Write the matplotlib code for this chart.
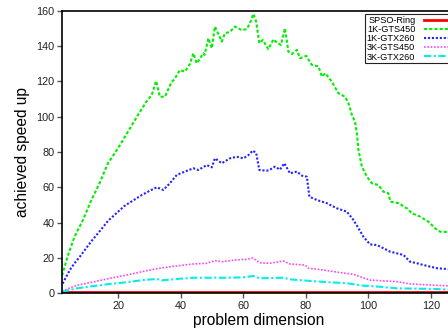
import numpy as np
import matplotlib
matplotlib.use("Agg")
import matplotlib.pyplot as plt

plt.rcParams['font.family'] = ['Liberation Sans', 'DejaVu Sans']

# speed up of each GPU variant against the sequential SPSO ring
ring_dim = [2, 128]
ring_speedup = [1, 1]

gts450_1k_dim = [2, 4, 6, 8.7, 11.4, 14, 16.7, 19.9, 23.1, 26.3, 29, 30.7, 32.1, 33.3, 34.9,
                 37.1, 37.9, 39.7, 41.3, 42.9, 44, 45.1, 47.2, 47.6, 48.8, 49.9, 50.9, 53.1,
                 54.1, 55.7, 57.3, 59.5, 61.1, 62.1, 63.2, 64.1, 65.1, 66.2, 68, 69.6, 70.7,
                 72, 73.3, 74.4, 75.5, 77.1, 78.1, 80.1, 81.9, 84, 85.1, 86.2, 88.3, 90.4,
                 92.5, 93.6, 94.7, 95.7, 96.3, 96.8, 97.9, 99.5, 101.1, 103.2, 104.8, 106.4,
                 107, 109.6, 112.3, 113.9, 116.5, 119.2, 121.3, 122.9, 128]
gts450_1k_speedup = [10, 22, 32, 41.5, 52.8, 62.3, 73.6, 82.1, 91.5, 101, 108.5, 112.3, 120.2,
                     111.3, 111.3, 119.8, 121, 126.4, 125.5, 129.8, 135.9, 130.2, 135.9, 135,
                     144.4, 138.7, 151, 142.5, 147.2, 148, 151, 149, 149.6, 152.9, 158.2, 153.8,
                     141.6, 143.4, 138.2, 143.8, 142, 140.6, 150, 136.8, 135.5, 137.8, 133.1,
                     134.4, 129.3, 128.5, 122.7, 124.6, 119.8, 113.2, 111.3, 107.6, 101, 97.2,
                     90.6, 81.1, 71.7, 66, 62.3, 61.3, 57.5, 56.6, 51.9, 51, 48.1, 45.3, 43.4,
                     40.5, 36.8, 34.9, 34.5]

gtx260_1k_dim = [2.2, 4.5, 6, 7.7, 11.4, 14, 16.7, 19.5, 22, 24.7, 27.4, 30, 32.3, 34.4, 36.5,
                 38.7, 41.3, 44, 45.6, 48.3, 49.9, 50.9, 53.1, 55.7, 57.9, 60, 61.6, 63, 64.1,
                 65.1, 67.5, 68.5, 70.1, 71.7, 73.1, 74.9, 77.1, 78.7, 80.3, 81.1, 83.5, 86.7,
                 89.9, 93.1, 95.2, 96.8, 98.4, 100.5, 102.7, 104.8, 106.9, 109.1, 111.2, 113.3,
                 115.5, 117.6, 119.7, 121.9, 128]
gtx260_1k_speedup = [5.5, 13.2, 17, 20.7, 29.5, 35, 41, 45.5, 49.5, 52.5, 55.5, 58, 60, 58.5,
                     62.3, 67, 68.9, 70.8, 69.8, 72.6, 71.3, 76.4, 73.6, 76.4, 77.3, 76.4, 78.2,
                     80.8, 79.3, 69.8, 69.4, 70, 71.7, 70, 73.6, 67.9, 68.9, 66.6, 66, 54.7, 52.8,
                     51, 48.1, 46.2, 41.5, 36.8, 32, 27.7, 27.3, 25.5, 23.6, 22.6, 21.7, 17.9, 17,
                     16, 15.1, 14.2, 13.3]

gts450_3k_dim = [2, 6.7, 12, 17.3, 22.4, 28, 32.5, 38.7, 44, 48.3, 50.9, 53.1, 57.9, 61, 63,
                 65.2, 68.5, 72.8, 74.9, 79.7, 80.8, 85.6, 90.9, 95.2, 97.3, 100.5, 109.1,
                 113.3, 119.7, 128]
gts450_3k_speedup = [1.2, 4.5, 6.4, 8.5, 10.2, 12.4, 14, 15.5, 16.6, 17, 18.5, 17.9, 18.9, 19.2,
                     20, 17.3, 17, 18.3, 16.6, 16, 14.2, 13.2, 11.7, 10.8, 9.4, 7.5, 6.6, 5.3,
                     4.7, 4]

gtx260_3k_dim = [2, 6.7, 11.7, 17.3, 22.4, 28, 32.3, 33.9, 38.7, 44, 48.3, 54.7, 60, 63.2, 65.2,
                 72.8, 74.9, 81.3, 87.7, 93.1, 98.4, 103.7, 109.1, 119.7, 128]
gtx260_3k_speedup = [0.8, 2.8, 4, 5.3, 6.2, 7.5, 8.1, 7.3, 8.1, 8.8, 8.8, 8.8, 9, 9.8, 8.5,
                     8.8, 7.9, 7, 6.2, 5.7, 4.3, 3.7, 2.8, 2.5, 2]

fig = plt.figure(figsize=(4.48, 3.34), dpi=100)
ax = fig.add_axes([0.1384, 0.1219, 0.8795, 0.8461])

ax.plot(ring_dim, ring_speedup, color='#ff0000', lw=2, label='SPSO-Ring')
ax.plot(gts450_1k_dim, gts450_1k_speedup, color='#00ee00', lw=1.5, dashes=(1.5, 1),
        label='1K-GTS450')
ax.plot(gtx260_1k_dim, gtx260_1k_speedup, color='#2222ff', lw=1.5, dashes=(1, 0.9),
        label='1K-GTX260')
ax.plot(gts450_3k_dim, gts450_3k_speedup, color='#ff44ff', lw=1.2, dashes=(1, 1),
        label='3K-GTS450')
ax.plot(gtx260_3k_dim, gtx260_3k_speedup, color='#00eeee', lw=1.5, dashes=(3.5, 1.2, 1, 1.2),
        label='3K-GTX260')

ax.set_xlim(2, 128)
ax.set_ylim(0, 160)
ax.set_xticks(np.arange(20, 121, 20))
ax.set_yticks(np.arange(0, 161, 20))
ax.tick_params(direction='out', length=3.5, width=1, color='#555555',
               labelsize=7.8, labelcolor='#222222', pad=2)
for s in ax.spines.values():
    s.set_linewidth(1.2)

ax.set_xlabel('problem dimension', fontsize=11.2)
ax.set_ylabel('achieved speed up', fontsize=11.2)
ax.xaxis.set_label_coords(0.5, -0.07)
ax.yaxis.set_label_coords(-0.08, 0.5)

leg = ax.legend(loc='upper left', bbox_to_anchor=(365 / 448, 1 - 14 / 334),
                bbox_transform=fig.transFigure, fontsize=6.6, markerfirst=False,
                handlelength=2.8, handletextpad=0.9, labelspacing=0.02,
                borderpad=0.2, borderaxespad=0, fancybox=False, framealpha=1,
                edgecolor='#222222')
leg.get_frame().set_linewidth(0.8)

fig.savefig('out.png', dpi=100)
